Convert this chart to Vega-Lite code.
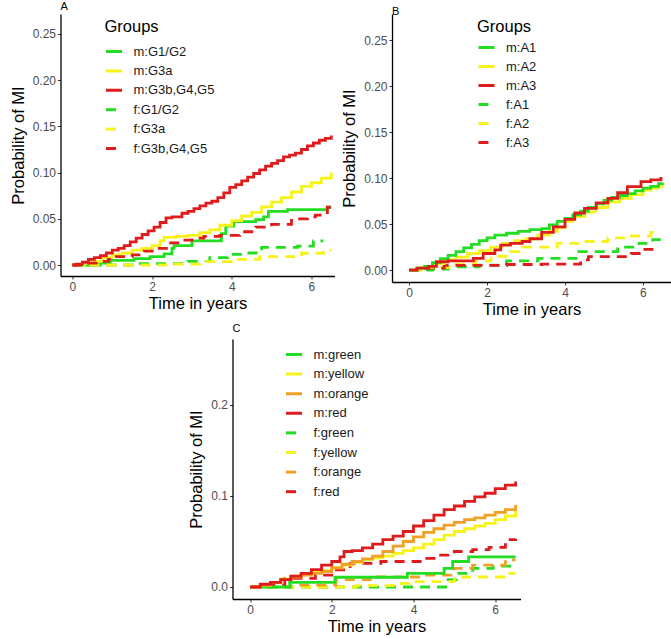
{
  "$schema": "https://vega.github.io/schema/vega-lite/v6.json",
  "padding": {"left": 9.5, "top": 1, "right": 0, "bottom": 0},
  "background": "white",
  "datasets": {
    "A": [
      {"g":"m:G1/G2","t":0,"v":0},{"g":"m:G1/G2","t":0.7,"v":0.002},{"g":"m:G1/G2","t":0.95,"v":0.005},{"g":"m:G1/G2","t":1.55,"v":0.007},{"g":"m:G1/G2","t":1.95,"v":0.009},{"g":"m:G1/G2","t":2.3,"v":0.012},{"g":"m:G1/G2","t":2.5,"v":0.018},{"g":"m:G1/G2","t":2.55,"v":0.021},{"g":"m:G1/G2","t":3.0,"v":0.026},{"g":"m:G1/G2","t":3.74,"v":0.034},{"g":"m:G1/G2","t":3.85,"v":0.042},{"g":"m:G1/G2","t":4.05,"v":0.047},{"g":"m:G1/G2","t":4.6,"v":0.049},{"g":"m:G1/G2","t":4.8,"v":0.052},{"g":"m:G1/G2","t":4.92,"v":0.058},{"g":"m:G1/G2","t":5.4,"v":0.06},{"g":"m:G1/G2","t":6.4,"v":0.0625},{"g":"m:G1/G2","t":6.5,"v":0.0625},
      {"g":"m:G3a","t":0,"v":0},{"g":"m:G3a","t":0.3,"v":0.002},{"g":"m:G3a","t":0.5,"v":0.004},{"g":"m:G3a","t":0.75,"v":0.008},{"g":"m:G3a","t":1.0,"v":0.011},{"g":"m:G3a","t":1.25,"v":0.013},{"g":"m:G3a","t":1.5,"v":0.016},{"g":"m:G3a","t":1.75,"v":0.018},{"g":"m:G3a","t":2.0,"v":0.021},{"g":"m:G3a","t":2.2,"v":0.026},{"g":"m:G3a","t":2.3,"v":0.03},{"g":"m:G3a","t":2.6,"v":0.031},{"g":"m:G3a","t":2.9,"v":0.032},{"g":"m:G3a","t":3.2,"v":0.035},{"g":"m:G3a","t":3.45,"v":0.038},{"g":"m:G3a","t":3.7,"v":0.043},{"g":"m:G3a","t":4.0,"v":0.048},{"g":"m:G3a","t":4.25,"v":0.053},{"g":"m:G3a","t":4.5,"v":0.057},{"g":"m:G3a","t":4.75,"v":0.063},{"g":"m:G3a","t":5.0,"v":0.068},{"g":"m:G3a","t":5.25,"v":0.073},{"g":"m:G3a","t":5.5,"v":0.079},{"g":"m:G3a","t":5.75,"v":0.085},{"g":"m:G3a","t":6.0,"v":0.089},{"g":"m:G3a","t":6.25,"v":0.094},{"g":"m:G3a","t":6.5,"v":0.1},
      {"g":"f:G1/G2","t":0,"v":0},{"g":"f:G1/G2","t":1.7,"v":0.0015},{"g":"f:G1/G2","t":2.9,"v":0.004},{"g":"f:G1/G2","t":3.45,"v":0.008},{"g":"f:G1/G2","t":3.9,"v":0.0115},{"g":"f:G1/G2","t":4.35,"v":0.013},{"g":"f:G1/G2","t":4.75,"v":0.019},{"g":"f:G1/G2","t":5.65,"v":0.0205},{"g":"f:G1/G2","t":6.05,"v":0.026},{"g":"f:G1/G2","t":6.3,"v":0.026},
      {"g":"f:G3a","t":0,"v":0},{"g":"f:G3a","t":2.5,"v":0.001},{"g":"f:G3a","t":3.2,"v":0.0036},{"g":"f:G3a","t":4.0,"v":0.006},{"g":"f:G3a","t":4.7,"v":0.009},{"g":"f:G3a","t":5.75,"v":0.0127},{"g":"f:G3a","t":6.3,"v":0.016},{"g":"f:G3a","t":6.5,"v":0.016},
      {"g":"f:G3b,G4,G5","t":0,"v":0},{"g":"f:G3b,G4,G5","t":0.3,"v":0.002},{"g":"f:G3b,G4,G5","t":0.6,"v":0.004},{"g":"f:G3b,G4,G5","t":0.9,"v":0.006},{"g":"f:G3b,G4,G5","t":1.1,"v":0.009},{"g":"f:G3b,G4,G5","t":1.5,"v":0.011},{"g":"f:G3b,G4,G5","t":1.8,"v":0.015},{"g":"f:G3b,G4,G5","t":2.1,"v":0.018},{"g":"f:G3b,G4,G5","t":2.4,"v":0.024},{"g":"f:G3b,G4,G5","t":2.7,"v":0.027},{"g":"f:G3b,G4,G5","t":3.0,"v":0.029},{"g":"f:G3b,G4,G5","t":3.3,"v":0.031},{"g":"f:G3b,G4,G5","t":3.7,"v":0.032},{"g":"f:G3b,G4,G5","t":4.2,"v":0.036},{"g":"f:G3b,G4,G5","t":4.6,"v":0.041},{"g":"f:G3b,G4,G5","t":5.0,"v":0.044},{"g":"f:G3b,G4,G5","t":5.5,"v":0.05},{"g":"f:G3b,G4,G5","t":5.9,"v":0.052},{"g":"f:G3b,G4,G5","t":6.1,"v":0.054},{"g":"f:G3b,G4,G5","t":6.4,"v":0.0625},{"g":"f:G3b,G4,G5","t":6.5,"v":0.0625},
      {"g":"m:G3b,G4,G5","t":0,"v":0},{"g":"m:G3b,G4,G5","t":0.1,"v":0.001},{"g":"m:G3b,G4,G5","t":0.25,"v":0.003},{"g":"m:G3b,G4,G5","t":0.4,"v":0.006},{"g":"m:G3b,G4,G5","t":0.55,"v":0.008},{"g":"m:G3b,G4,G5","t":0.7,"v":0.01},{"g":"m:G3b,G4,G5","t":0.85,"v":0.013},{"g":"m:G3b,G4,G5","t":1.0,"v":0.016},{"g":"m:G3b,G4,G5","t":1.15,"v":0.018},{"g":"m:G3b,G4,G5","t":1.3,"v":0.021},{"g":"m:G3b,G4,G5","t":1.45,"v":0.025},{"g":"m:G3b,G4,G5","t":1.6,"v":0.029},{"g":"m:G3b,G4,G5","t":1.75,"v":0.033},{"g":"m:G3b,G4,G5","t":1.9,"v":0.037},{"g":"m:G3b,G4,G5","t":2.05,"v":0.041},{"g":"m:G3b,G4,G5","t":2.2,"v":0.046},{"g":"m:G3b,G4,G5","t":2.35,"v":0.051},{"g":"m:G3b,G4,G5","t":2.5,"v":0.052},{"g":"m:G3b,G4,G5","t":2.75,"v":0.056},{"g":"m:G3b,G4,G5","t":2.9,"v":0.058},{"g":"m:G3b,G4,G5","t":3.05,"v":0.061},{"g":"m:G3b,G4,G5","t":3.2,"v":0.064},{"g":"m:G3b,G4,G5","t":3.35,"v":0.067},{"g":"m:G3b,G4,G5","t":3.5,"v":0.069},{"g":"m:G3b,G4,G5","t":3.65,"v":0.073},{"g":"m:G3b,G4,G5","t":3.8,"v":0.078},{"g":"m:G3b,G4,G5","t":3.95,"v":0.084},{"g":"m:G3b,G4,G5","t":4.1,"v":0.087},{"g":"m:G3b,G4,G5","t":4.25,"v":0.091},{"g":"m:G3b,G4,G5","t":4.4,"v":0.095},{"g":"m:G3b,G4,G5","t":4.55,"v":0.099},{"g":"m:G3b,G4,G5","t":4.7,"v":0.103},{"g":"m:G3b,G4,G5","t":4.85,"v":0.107},{"g":"m:G3b,G4,G5","t":5.0,"v":0.11},{"g":"m:G3b,G4,G5","t":5.15,"v":0.113},{"g":"m:G3b,G4,G5","t":5.3,"v":0.117},{"g":"m:G3b,G4,G5","t":5.45,"v":0.119},{"g":"m:G3b,G4,G5","t":5.6,"v":0.121},{"g":"m:G3b,G4,G5","t":5.75,"v":0.125},{"g":"m:G3b,G4,G5","t":5.9,"v":0.129},{"g":"m:G3b,G4,G5","t":6.05,"v":0.132},{"g":"m:G3b,G4,G5","t":6.2,"v":0.135},{"g":"m:G3b,G4,G5","t":6.35,"v":0.137},{"g":"m:G3b,G4,G5","t":6.5,"v":0.14}
    ],
    "B": [
      {"g":"f:A1","t":0,"v":0},{"g":"f:A1","t":0.6,"v":0.001},{"g":"f:A1","t":1.0,"v":0.0036},{"g":"f:A1","t":1.8,"v":0.0054},{"g":"f:A1","t":2.5,"v":0.01},{"g":"f:A1","t":3.3,"v":0.0127},{"g":"f:A1","t":4.35,"v":0.02},{"g":"f:A1","t":5.35,"v":0.025},{"g":"f:A1","t":5.9,"v":0.029},{"g":"f:A1","t":6.25,"v":0.033},{"g":"f:A1","t":6.5,"v":0.034},
      {"g":"f:A2","t":0,"v":0},{"g":"f:A2","t":0.3,"v":0.003},{"g":"f:A2","t":1.2,"v":0.006},{"g":"f:A2","t":1.7,"v":0.01},{"g":"f:A2","t":2.1,"v":0.015},{"g":"f:A2","t":2.6,"v":0.02},{"g":"f:A2","t":2.9,"v":0.025},{"g":"f:A2","t":3.8,"v":0.029},{"g":"f:A2","t":4.4,"v":0.031},{"g":"f:A2","t":5.1,"v":0.035},{"g":"f:A2","t":5.6,"v":0.037},{"g":"f:A2","t":6.2,"v":0.041},{"g":"f:A2","t":6.4,"v":0.043},
      {"g":"f:A3","t":0,"v":0},{"g":"f:A3","t":0.3,"v":0.002},{"g":"f:A3","t":0.9,"v":0.005},{"g":"f:A3","t":2.5,"v":0.006},{"g":"f:A3","t":3.4,"v":0.0065},{"g":"f:A3","t":4.4,"v":0.011},{"g":"f:A3","t":4.6,"v":0.0145},{"g":"f:A3","t":5.7,"v":0.018},{"g":"f:A3","t":5.95,"v":0.0225},{"g":"f:A3","t":6.4,"v":0.0225},
      {"g":"m:A2","t":0,"v":0},{"g":"m:A2","t":0.3,"v":0.003},{"g":"m:A2","t":0.6,"v":0.007},{"g":"m:A2","t":0.9,"v":0.011},{"g":"m:A2","t":1.2,"v":0.014},{"g":"m:A2","t":1.5,"v":0.018},{"g":"m:A2","t":1.8,"v":0.021},{"g":"m:A2","t":2.1,"v":0.025},{"g":"m:A2","t":2.4,"v":0.029},{"g":"m:A2","t":2.7,"v":0.032},{"g":"m:A2","t":3.0,"v":0.034},{"g":"m:A2","t":3.3,"v":0.038},{"g":"m:A2","t":3.6,"v":0.042},{"g":"m:A2","t":3.8,"v":0.046},{"g":"m:A2","t":4.0,"v":0.053},{"g":"m:A2","t":4.2,"v":0.058},{"g":"m:A2","t":4.5,"v":0.063},{"g":"m:A2","t":4.8,"v":0.068},{"g":"m:A2","t":5.1,"v":0.074},{"g":"m:A2","t":5.4,"v":0.078},{"g":"m:A2","t":5.7,"v":0.082},{"g":"m:A2","t":6.0,"v":0.087},{"g":"m:A2","t":6.2,"v":0.089},{"g":"m:A2","t":6.4,"v":0.091},{"g":"m:A2","t":6.5,"v":0.093},
      {"g":"m:A1","t":0,"v":0},{"g":"m:A1","t":0.2,"v":0.002},{"g":"m:A1","t":0.4,"v":0.004},{"g":"m:A1","t":0.6,"v":0.008},{"g":"m:A1","t":0.8,"v":0.0125},{"g":"m:A1","t":1.0,"v":0.016},{"g":"m:A1","t":1.2,"v":0.02},{"g":"m:A1","t":1.4,"v":0.024},{"g":"m:A1","t":1.6,"v":0.028},{"g":"m:A1","t":1.8,"v":0.032},{"g":"m:A1","t":2.0,"v":0.035},{"g":"m:A1","t":2.2,"v":0.038},{"g":"m:A1","t":2.5,"v":0.04},{"g":"m:A1","t":2.8,"v":0.042},{"g":"m:A1","t":3.1,"v":0.044},{"g":"m:A1","t":3.4,"v":0.045},{"g":"m:A1","t":3.6,"v":0.049},{"g":"m:A1","t":3.8,"v":0.053},{"g":"m:A1","t":4.0,"v":0.056},{"g":"m:A1","t":4.2,"v":0.06},{"g":"m:A1","t":4.4,"v":0.064},{"g":"m:A1","t":4.6,"v":0.068},{"g":"m:A1","t":4.8,"v":0.072},{"g":"m:A1","t":5.0,"v":0.076},{"g":"m:A1","t":5.2,"v":0.079},{"g":"m:A1","t":5.4,"v":0.081},{"g":"m:A1","t":5.6,"v":0.083},{"g":"m:A1","t":5.8,"v":0.086},{"g":"m:A1","t":6.0,"v":0.089},{"g":"m:A1","t":6.2,"v":0.091},{"g":"m:A1","t":6.4,"v":0.094},{"g":"m:A1","t":6.5,"v":0.095},
      {"g":"m:A3","t":0,"v":0},{"g":"m:A3","t":0.2,"v":0.002},{"g":"m:A3","t":0.5,"v":0.004},{"g":"m:A3","t":0.7,"v":0.009},{"g":"m:A3","t":1.0,"v":0.01},{"g":"m:A3","t":1.65,"v":0.0127},{"g":"m:A3","t":1.9,"v":0.018},{"g":"m:A3","t":2.2,"v":0.022},{"g":"m:A3","t":2.35,"v":0.027},{"g":"m:A3","t":2.6,"v":0.029},{"g":"m:A3","t":2.9,"v":0.031},{"g":"m:A3","t":3.1,"v":0.034},{"g":"m:A3","t":3.4,"v":0.041},{"g":"m:A3","t":3.7,"v":0.047},{"g":"m:A3","t":4.0,"v":0.055},{"g":"m:A3","t":4.25,"v":0.062},{"g":"m:A3","t":4.5,"v":0.067},{"g":"m:A3","t":4.8,"v":0.073},{"g":"m:A3","t":5.1,"v":0.078},{"g":"m:A3","t":5.35,"v":0.084},{"g":"m:A3","t":5.6,"v":0.0906},{"g":"m:A3","t":5.95,"v":0.096},{"g":"m:A3","t":6.2,"v":0.098},{"g":"m:A3","t":6.46,"v":0.0996},{"g":"m:A3","t":6.5,"v":0.0996}
    ],
    "C": [
      {"g":"f:green","t":0,"v":0},{"g":"f:green","t":4.85,"v":0.008},{"g":"f:green","t":5.05,"v":0.015},{"g":"f:green","t":5.45,"v":0.0205},{"g":"f:green","t":5.95,"v":0.023},{"g":"f:green","t":6.5,"v":0.023},
      {"g":"f:yellow","t":0,"v":0},{"g":"f:yellow","t":2.6,"v":0.0015},{"g":"f:yellow","t":3.7,"v":0.004},{"g":"f:yellow","t":3.9,"v":0.006},{"g":"f:yellow","t":5.0,"v":0.011},{"g":"f:yellow","t":6.25,"v":0.015},{"g":"f:yellow","t":6.5,"v":0.015},
      {"g":"f:orange","t":0,"v":0},{"g":"f:orange","t":1.0,"v":0.002},{"g":"f:orange","t":2.1,"v":0.008},{"g":"f:orange","t":3.1,"v":0.011},{"g":"f:orange","t":4.2,"v":0.013},{"g":"f:orange","t":5.0,"v":0.0205},{"g":"f:orange","t":5.45,"v":0.024},{"g":"f:orange","t":6.25,"v":0.0297},{"g":"f:orange","t":6.5,"v":0.0297},
      {"g":"f:red","t":0,"v":0},{"g":"f:red","t":0.3,"v":0.002},{"g":"f:red","t":0.85,"v":0.0095},{"g":"f:red","t":1.6,"v":0.013},{"g":"f:red","t":2.05,"v":0.0187},{"g":"f:red","t":2.45,"v":0.026},{"g":"f:red","t":3.2,"v":0.028},{"g":"f:red","t":4.2,"v":0.0315},{"g":"f:red","t":4.55,"v":0.035},{"g":"f:red","t":5.0,"v":0.039},{"g":"f:red","t":5.45,"v":0.041},{"g":"f:red","t":5.85,"v":0.0435},{"g":"f:red","t":6.25,"v":0.052},{"g":"f:red","t":6.5,"v":0.053},
      {"g":"m:green","t":0,"v":0},{"g":"m:green","t":0.97,"v":0.005},{"g":"m:green","t":2.08,"v":0.0107},{"g":"m:green","t":3.85,"v":0.015},{"g":"m:green","t":4.75,"v":0.0205},{"g":"m:green","t":4.96,"v":0.028},{"g":"m:green","t":5.35,"v":0.033},{"g":"m:green","t":6.5,"v":0.033},
      {"g":"m:yellow","t":0,"v":0},{"g":"m:yellow","t":0.25,"v":0.002},{"g":"m:yellow","t":0.5,"v":0.005},{"g":"m:yellow","t":0.75,"v":0.009},{"g":"m:yellow","t":1.0,"v":0.012},{"g":"m:yellow","t":1.25,"v":0.014},{"g":"m:yellow","t":1.5,"v":0.016},{"g":"m:yellow","t":1.75,"v":0.018},{"g":"m:yellow","t":2.0,"v":0.021},{"g":"m:yellow","t":2.25,"v":0.024},{"g":"m:yellow","t":2.5,"v":0.027},{"g":"m:yellow","t":2.75,"v":0.03},{"g":"m:yellow","t":3.0,"v":0.032},{"g":"m:yellow","t":3.25,"v":0.034},{"g":"m:yellow","t":3.5,"v":0.037},{"g":"m:yellow","t":3.75,"v":0.04},{"g":"m:yellow","t":4.0,"v":0.043},{"g":"m:yellow","t":4.25,"v":0.047},{"g":"m:yellow","t":4.5,"v":0.052},{"g":"m:yellow","t":4.75,"v":0.057},{"g":"m:yellow","t":5.0,"v":0.061},{"g":"m:yellow","t":5.25,"v":0.064},{"g":"m:yellow","t":5.5,"v":0.067},{"g":"m:yellow","t":5.75,"v":0.07},{"g":"m:yellow","t":6.0,"v":0.074},{"g":"m:yellow","t":6.25,"v":0.078},{"g":"m:yellow","t":6.5,"v":0.084},
      {"g":"m:orange","t":0,"v":0},{"g":"m:orange","t":0.25,"v":0.002},{"g":"m:orange","t":0.5,"v":0.005},{"g":"m:orange","t":0.75,"v":0.008},{"g":"m:orange","t":1.0,"v":0.011},{"g":"m:orange","t":1.25,"v":0.013},{"g":"m:orange","t":1.5,"v":0.015},{"g":"m:orange","t":1.75,"v":0.017},{"g":"m:orange","t":2.0,"v":0.021},{"g":"m:orange","t":2.25,"v":0.025},{"g":"m:orange","t":2.5,"v":0.028},{"g":"m:orange","t":2.75,"v":0.031},{"g":"m:orange","t":3.0,"v":0.034},{"g":"m:orange","t":3.25,"v":0.039},{"g":"m:orange","t":3.5,"v":0.045},{"g":"m:orange","t":3.75,"v":0.05},{"g":"m:orange","t":4.0,"v":0.055},{"g":"m:orange","t":4.25,"v":0.06},{"g":"m:orange","t":4.5,"v":0.064},{"g":"m:orange","t":4.75,"v":0.068},{"g":"m:orange","t":5.0,"v":0.071},{"g":"m:orange","t":5.25,"v":0.074},{"g":"m:orange","t":5.5,"v":0.076},{"g":"m:orange","t":5.75,"v":0.079},{"g":"m:orange","t":6.0,"v":0.082},{"g":"m:orange","t":6.25,"v":0.085},{"g":"m:orange","t":6.5,"v":0.09},
      {"g":"m:red","t":0,"v":0},{"g":"m:red","t":0.25,"v":0.003},{"g":"m:red","t":0.5,"v":0.005},{"g":"m:red","t":0.75,"v":0.008},{"g":"m:red","t":1.0,"v":0.012},{"g":"m:red","t":1.25,"v":0.015},{"g":"m:red","t":1.5,"v":0.019},{"g":"m:red","t":1.75,"v":0.024},{"g":"m:red","t":2.0,"v":0.028},{"g":"m:red","t":2.2,"v":0.033},{"g":"m:red","t":2.3,"v":0.039},{"g":"m:red","t":2.5,"v":0.04},{"g":"m:red","t":2.75,"v":0.043},{"g":"m:red","t":3.0,"v":0.047},{"g":"m:red","t":3.25,"v":0.052},{"g":"m:red","t":3.5,"v":0.056},{"g":"m:red","t":3.75,"v":0.061},{"g":"m:red","t":4.0,"v":0.067},{"g":"m:red","t":4.25,"v":0.073},{"g":"m:red","t":4.5,"v":0.079},{"g":"m:red","t":4.75,"v":0.085},{"g":"m:red","t":5.0,"v":0.089},{"g":"m:red","t":5.25,"v":0.094},{"g":"m:red","t":5.5,"v":0.099},{"g":"m:red","t":5.75,"v":0.103},{"g":"m:red","t":6.0,"v":0.108},{"g":"m:red","t":6.25,"v":0.112},{"g":"m:red","t":6.5,"v":0.116}
    ]
  },
  "config": {
    "view": {"stroke": null},
    "font": "Liberation Sans",
    "axis": {"grid": false, "domainColor": "#000000", "domainWidth": 1.3, "tickColor": "#333333", "tickSize": 3, "tickWidth": 1, "labelColor": "#4d4d4d", "labelFontSize": 12, "labelPadding": 2, "titleFontSize": 16.5, "titleFontWeight": "normal", "titleColor": "#000000", "labelFont": "Liberation Sans", "titleFont": "Liberation Sans"},
    "legend": {"symbolType": "stroke", "symbolSize": 256, "symbolStrokeWidth": 3, "labelFontSize": 13, "labelColor": "#1a1a1a", "labelOffset": 10, "rowPadding": 2.4, "titleFontSize": 16.5, "titleFontWeight": "normal", "titleColor": "#000000", "titlePadding": 6.5, "padding": 0, "labelFont": "Liberation Sans", "titleFont": "Liberation Sans"},
    "title": {"fontSize": 11, "fontWeight": "normal", "anchor": "start", "frame": "group", "offset": 2, "color": "#000000", "font": "Liberation Sans"}
  },
  "spacing": 5,
  "resolve": {"scale": {"x": "independent", "y": "independent", "color": "independent", "strokeDash": "independent"}, "legend": {"color": "independent", "strokeDash": "independent"}},
  "vconcat": [
    {
      "spacing": 3.5,
      "resolve": {"scale": {"x": "independent", "y": "independent", "color": "independent", "strokeDash": "independent"}, "legend": {"color": "independent", "strokeDash": "independent"}},
      "hconcat": [
        {
          "width": 274, "height": 262,
          "title": {"text": "A"},
          "data": {"name": "A"},
          "mark": {"type": "line", "interpolate": "step-after", "strokeWidth": 2.8},
          "encoding": {
            "x": {"field": "t", "type": "quantitative", "scale": {"domain": [-0.3, 6.58], "nice": false, "zero": false}, "axis": {"values": [0, 2, 4, 6], "title": "Time in years", "titlePadding": 3}},
            "y": {"field": "v", "type": "quantitative", "scale": {"domain": [-0.0119, 0.2716], "nice": false, "zero": false}, "axis": {"values": [0, 0.05, 0.1, 0.15, 0.2, 0.25], "format": ".2f", "title": "Probability of MI", "titlePadding": 6}},
            "color": {"field": "g", "type": "nominal", "scale": {"domain": ["m:G1/G2", "m:G3a", "m:G3b,G4,G5", "f:G1/G2", "f:G3a", "f:G3b,G4,G5"], "range": ["#22dd22", "#f7f21a", "#e01b1b", "#22dd22", "#f7f21a", "#e01b1b"]}, "legend": {"title": "Groups", "orient": "none", "legendX": 44, "legendY": 5}},
            "strokeDash": {"field": "g", "type": "nominal", "scale": {"domain": ["m:G1/G2", "m:G3a", "m:G3b,G4,G5", "f:G1/G2", "f:G3a", "f:G3b,G4,G5"], "range": [[1, 0], [1, 0], [1, 0], [10, 7], [10, 7], [10, 7]]}, "legend": {"title": "Groups", "orient": "none", "legendX": 44, "legendY": 5}}
          }
        },
        {
          "width": 279, "height": 268,
          "title": {"text": "B", "dy": 5},
          "data": {"name": "B"},
          "mark": {"type": "line", "interpolate": "step-after", "strokeWidth": 2.8},
          "encoding": {
            "x": {"field": "t", "type": "quantitative", "scale": {"domain": [-0.44, 6.72], "nice": false, "zero": false}, "axis": {"values": [0, 2, 4, 6], "title": "Time in years", "titlePadding": 3}},
            "y": {"field": "v", "type": "quantitative", "scale": {"domain": [-0.013, 0.2783], "nice": false, "zero": false}, "axis": {"values": [0, 0.05, 0.1, 0.15, 0.2, 0.25], "format": ".2f", "title": "Probability of MI", "titlePadding": 6}},
            "color": {"field": "g", "type": "nominal", "scale": {"domain": ["m:A1", "m:A2", "m:A3", "f:A1", "f:A2", "f:A3"], "range": ["#22dd22", "#f7f21a", "#e01b1b", "#22dd22", "#f7f21a", "#e01b1b"]}, "legend": {"title": "Groups", "orient": "none", "legendX": 85, "legendY": 5, "titlePadding": 2.5, "rowPadding": 2.0}},
            "strokeDash": {"field": "g", "type": "nominal", "scale": {"domain": ["m:A1", "m:A2", "m:A3", "f:A1", "f:A2", "f:A3"], "range": [[1, 0], [1, 0], [1, 0], [10, 7], [10, 7], [10, 7]]}, "legend": {"title": "Groups", "orient": "none", "legendX": 85, "legendY": 5, "titlePadding": 2.5, "rowPadding": 2.0}}
          }
        }
      ]
    },
    {
      "spacing": 0,
      "resolve": {"scale": {"x": "independent", "y": "independent", "color": "independent", "strokeDash": "independent"}, "legend": {"color": "independent", "strokeDash": "independent"}},
      "hconcat": [
        {
          "width": 128, "height": 10,
          "data": {"values": []},
          "mark": {"type": "point", "opacity": 0}
        },
        {
          "width": 288, "height": 260,
          "title": {"text": "C", "offset": 5},
          "data": {"name": "C"},
          "mark": {"type": "line", "interpolate": "step-after", "strokeWidth": 2.8},
          "encoding": {
            "x": {"field": "t", "type": "quantitative", "scale": {"domain": [-0.43, 6.62], "nice": false, "zero": false}, "axis": {"values": [0, 2, 4, 6], "title": "Time in years", "titlePadding": 3}},
            "y": {"field": "v", "type": "quantitative", "scale": {"domain": [-0.0132, 0.2725], "nice": false, "zero": false}, "axis": {"values": [0, 0.1, 0.2], "format": ".1f", "title": "Probability of MI", "titlePadding": 6}},
            "color": {"field": "g", "type": "nominal", "scale": {"domain": ["m:green", "m:yellow", "m:orange", "m:red", "f:green", "f:yellow", "f:orange", "f:red"], "range": ["#22dd22", "#f7f21a", "#f0a024", "#e01b1b", "#22dd22", "#f7f21a", "#f0a024", "#e01b1b"]}, "legend": {"title": null, "orient": "none", "legendX": 52, "legendY": 6, "rowPadding": 2.6}},
            "strokeDash": {"field": "g", "type": "nominal", "scale": {"domain": ["m:green", "m:yellow", "m:orange", "m:red", "f:green", "f:yellow", "f:orange", "f:red"], "range": [[1, 0], [1, 0], [1, 0], [1, 0], [10, 7], [10, 7], [10, 7], [10, 7]]}, "legend": {"title": null, "orient": "none", "legendX": 52, "legendY": 6, "rowPadding": 2.6}}
          }
        }
      ]
    }
  ]
}
